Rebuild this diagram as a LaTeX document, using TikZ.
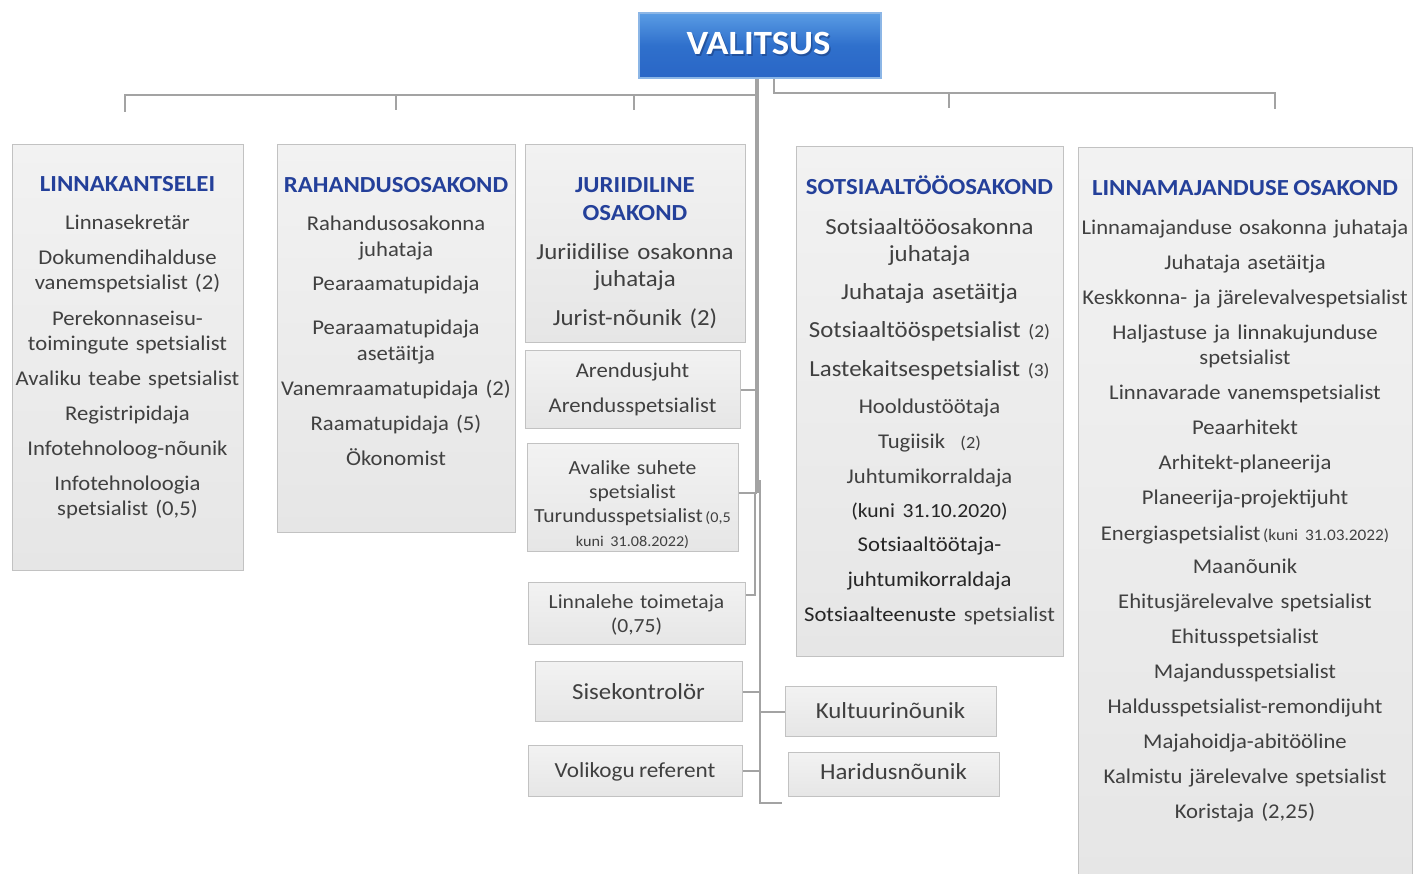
\documentclass[tikz,border=0pt]{standalone}
\usepackage{fontspec}
\setmainfont{Carlito}[FakeStretch=1.08,WordSpace=0.8]
\definecolor{hdr}{HTML}{24409A}
\definecolor{bodytxt}{HTML}{404040}
\definecolor{darktxt}{HTML}{262626}
\definecolor{connc}{HTML}{A3A3A3}
\definecolor{boxline}{HTML}{C2C2C2}
\definecolor{boxtop}{HTML}{F2F2F2}
\definecolor{boxbot}{HTML}{E6E6E6}
\definecolor{valtop}{HTML}{5A9CE4}
\definecolor{valmid}{HTML}{2F70CC}
\definecolor{valbot}{HTML}{2A66C6}
\definecolor{valline}{HTML}{8CB6E6}
\definecolor{valshadow}{HTML}{1A3F80}
\begin{document}
\begin{tikzpicture}[x=1pt,y=-1pt,
  orgbox/.style={draw=boxline, line width=1.3pt, top color=boxtop, bottom color=boxbot, inner sep=0pt, anchor=north west},
  valbox/.style={draw=valline, line width=2pt, top color=valtop, bottom color=valbot, middle color=valmid, inner sep=0pt, anchor=north west},
  hdrtxt/.style={text=hdr, anchor=base, align=center, inner sep=0pt, font=\bfseries\fontsize{23}{28}\selectfont},
  bodyt/.style={text=bodytxt, anchor=base, align=center, inner sep=0pt},
  connline/.style={draw=connc, line width=2.2pt}]
\useasboundingbox (0,0) rectangle (1414,874);
\fill[white] (0,0) rectangle (1414,874);

% top box
\node[valbox, minimum width=242pt, minimum height=65pt] (val) at (638,12) {};
\node[anchor=base, inner sep=0pt, text=valshadow, opacity=0.6, font=\bfseries\fontsize{34}{40}\selectfont] (vals) at (760,56.5) {VALITSUS};
\node[anchor=base, inner sep=0pt, text=white, font=\bfseries\fontsize{34}{40}\selectfont] (valt) at (758.5,55) {VALITSUS};

% boxes
\node[orgbox, minimum width=231pt, minimum height=426pt] (lk) at (12,144) {};
\node[orgbox, minimum width=238pt, minimum height=388pt] (ra) at (277,144) {};
\node[orgbox, minimum width=220pt, minimum height=198pt] (ju) at (525,144) {};
\node[orgbox, minimum width=215pt, minimum height=78pt] (are) at (525,350) {};
\node[orgbox, minimum width=211pt, minimum height=108pt] (ava) at (527,443) {};
\node[orgbox, minimum width=217pt, minimum height=62pt] (lin) at (528,582) {};
\node[orgbox, minimum width=207pt, minimum height=60pt] (sis) at (535,661) {};
\node[orgbox, minimum width=214pt, minimum height=51pt] (vol) at (528,745) {};
\node[orgbox, minimum width=211pt, minimum height=50pt] (kul) at (785,686) {};
\node[orgbox, minimum width=211pt, minimum height=44pt] (har) at (788,752) {};
\node[orgbox, minimum width=267pt, minimum height=510pt] (so) at (796,146) {};
\node[orgbox, minimum width=334pt, minimum height=740pt] (lm) at (1078,147) {};

% connectors
\coordinate (tA) at (757,95);
\coordinate (tB) at (757,493);
\coordinate (rJ) at (774,93);
\coordinate (dLK) at (125,112);
\coordinate (dRA) at (396,110);
\coordinate (dJU) at (634,110);
\coordinate (dSO) at (949,108);
\coordinate (dLM) at (1275,109);
\coordinate (linJ) at (755,595);
\coordinate (t2top) at (760,480);
\coordinate (t2bot) at (760,803);
\coordinate (stub) at (782,803);

\draw[connline, line width=4pt] (val.south -| tA) -- (tB);
\draw[connline] (dLK) -- (dLK |- tA) -- (tA);
\draw[connline] (dRA |- tA) -- (dRA);
\draw[connline] (dJU |- tA) -- (dJU);
\draw[connline] (val.south -| rJ) -- (rJ) -- (rJ -| dLM) -- (dLM);
\draw[connline] (dSO |- rJ) -- (dSO);
\draw[connline] (are.east) -- (are.east -| tA);
\draw[connline] (ava.east |- tB) -- (tB);
\draw[connline] (lin.east |- linJ) -- (linJ) -- (linJ |- tB);
\draw[connline] (t2top) -- (t2bot) -- (stub);
\draw[connline] (sis.east) -- (sis.east -| t2top);
\draw[connline] (vol.east) -- (vol.east -| t2top);
\draw[connline] (kul.west) -- (kul.west -| t2top);

% LINNAKANTSELEI
\node[hdrtxt] (lkh) at (127.5,192) {LINNAKANTSELEI};
\node[bodyt, text width=260pt, font=\fontsize{21}{25}\selectfont] (lkb) at (127.5,230)
 {Linnasekretär\\[10pt]
  Dokumendihalduse\\ vanemspetsialist (2)\\[11pt]
  Perekonnaseisu-\\ toimingute spetsialist\\[10pt]
  Avaliku teabe spetsialist\\[10pt]
  Registripidaja\\[10pt]
  Infotehnoloog-nõunik\\[10pt]
  Infotehnoloogia\\ spetsialist (0,5)};

% RAHANDUSOSAKOND
\node[hdrtxt] (rah) at (396,193) {RAHANDUSOSAKOND};
\node[bodyt, text width=260pt, font=\fontsize{21}{25}\selectfont] (rab) at (396,231)
 {Rahandusosakonna\\[1pt] juhataja\\[9pt]
  Pearaamatupidaja\\[19pt]
  Pearaamatupidaja\\[1pt] asetäitja\\[10pt]
  Vanemraamatupidaja (2)\\[10pt]
  Raamatupidaja (5)\\[10pt]
  Ökonomist};

% JURIIDILINE OSAKOND
\node[hdrtxt, text width=240pt] (juh) at (635,193) {JURIIDILINE\\OSAKOND};
\node[bodyt, text width=240pt, font=\fontsize{23}{27}\selectfont] (jub) at (635,260)
 {Juriidilise osakonna\\ juhataja\\[12pt] Jurist-nõunik (2)};

% small boxes
\node[bodyt, text width=240pt, font=\fontsize{21}{25}\selectfont] (areb) at (632.5,378)
 {Arendusjuht\\[10pt] Arendusspetsialist};
\node[bodyt, text width=240pt, font=\fontsize{20}{24}\selectfont] (avab) at (632.5,475)
 {Avalike suhete\\ spetsialist\\ Turundusspetsialist{\fontsize{15}{24}\selectfont\,(0,5}\\
  {\fontsize{15}{24}\selectfont kuni 31.08.2022)}};
\node[bodyt, text width=240pt, font=\fontsize{20}{24}\selectfont] (linb) at (636.5,608)
 {Linnalehe toimetaja\\ (0,75)};
\node[bodyt, font=\fontsize{23}{27}\selectfont] (sisb) at (638.5,699) {Sisekontrolör};
\node[bodyt, font=\fontsize{21.5}{25}\selectfont] (volb) at (635,777) {Volikogu referent};
\node[bodyt, font=\fontsize{23}{27}\selectfont] (kulb) at (890.5,718) {Kultuurinõunik};
\node[bodyt, font=\fontsize{23}{27}\selectfont] (harb) at (893.5,779) {Haridusnõunik};

% SOTSIAALTOOOSAKOND
\node[hdrtxt] (soh) at (929.5,195) {SOTSIAALTÖÖOSAKOND};
\node[bodyt, text width=290pt, font=\fontsize{23}{25}\selectfont] (sob) at (929.5,235)
 {Sotsiaaltööosakonna\\[2pt] juhataja\\[13pt]
  Juhataja asetäitja\\[13pt]
  Sotsiaaltööspetsialist {\fontsize{18}{25}\selectfont(2)}\\[14pt]
  Lastekaitsespetsialist {\fontsize{18}{25}\selectfont(3)}\\[12pt]
  {\fontsize{21}{25}\selectfont Hooldustöötaja}\\[10pt]
  {\fontsize{21}{25}\selectfont Tugiisik {\fontsize{17}{25}\selectfont\ (2)}}\\[10pt]
  {\fontsize{21}{25}\selectfont Juhtumikorraldaja}\\[9pt]
  {\color{darktxt}\fontsize{20}{25}\selectfont(kuni 31.10.2020)}\\[9pt]
  {\color{darktxt}\fontsize{21}{25}\selectfont Sotsiaaltöötaja-}\\[10pt]
  {\color{darktxt}\fontsize{21}{25}\selectfont juhtumikorraldaja}\\[10pt]
  {\fontsize{21}{25}\selectfont{\color{darktxt}Sotsiaalteenuste} spetsialist}};

% LINNAMAJANDUSE OSAKOND
\node[hdrtxt] (lmh) at (1245,196) {LINNAMAJANDUSE OSAKOND};
\node[bodyt, text width=370pt, font=\fontsize{21}{25}\selectfont] (lmb) at (1245,235)
 {Linnamajanduse osakonna juhataja\\[10pt]
  Juhataja asetäitja\\[10pt]
  Keskkonna- ja järelevalvespetsialist\\[10pt]
  Haljastuse ja linnakujunduse\\ spetsialist\\[10pt]
  Linnavarade vanemspetsialist\\[10pt]
  Peaarhitekt\\[10pt]
  Arhitekt-planeerija\\[10pt]
  Planeerija-projektijuht\\[11pt]
  Energiaspetsialist{\fontsize{16}{25}\selectfont\,(kuni 31.03.2022)}\\[8pt]
  Maanõunik\\[10pt]
  Ehitusjärelevalve spetsialist\\[10pt]
  Ehitusspetsialist\\[10pt]
  Majandusspetsialist\\[10pt]
  Haldusspetsialist-remondijuht\\[10pt]
  Majahoidja-abitööline\\[10pt]
  Kalmistu järelevalve spetsialist\\[10pt]
  Koristaja (2,25)};
\end{tikzpicture}
\end{document}
